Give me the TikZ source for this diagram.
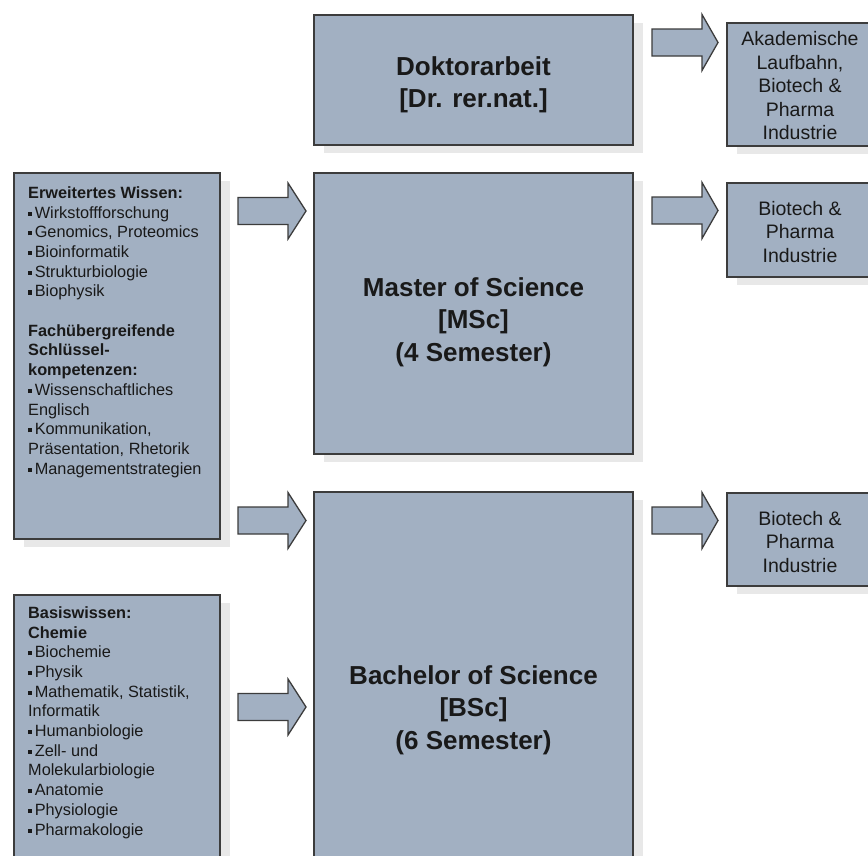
\documentclass[tikz,border=0pt]{standalone}
\usepackage{fontspec}
\setmainfont{Liberation Sans}
\usetikzlibrary{shadows}
\definecolor{boxfill}{RGB}{162,176,194}
\definecolor{boxline}{RGB}{60,60,60}
\definecolor{shadowc}{RGB}{232,232,232}
\definecolor{txt}{RGB}{25,25,25}
\newcommand{\sqb}{\rule[2.3pt]{4.2pt}{4.2pt}\hspace{2.4pt}}
\newcommand{\blockarrow}[4]{%
  \draw[blockarr] ({#1},{#4-13.5}) -- ({#2},{#4-13.5}) -- ({#2},{#4-28}) -- ({#3},{#4}) -- ({#2},{#4+28}) -- ({#2},{#4+13.5}) -- ({#1},{#4+13.5}) -- cycle;}
\begin{document}
\begin{tikzpicture}[x=1pt,y=-1pt,
  box/.style={draw=boxline, line width=1.4pt, fill=boxfill, inner sep=0pt,
    drop shadow={shadow xshift=10pt, shadow yshift=-8pt, fill=shadowc, opacity=1, draw=none}},
  blockarr/.style={draw=boxline, line width=1.3pt, fill=boxfill, line join=miter},
  bigtxt/.style={font=\fontsize{26}{32.5}\selectfont\bfseries, align=center, anchor=north, inner sep=0pt, text=txt},
  sidetxt/.style={font=\fontsize{19.5}{23.5}\selectfont, align=center, anchor=north, inner sep=0pt, text=txt},
  listtxt/.style={font=\fontsize{16.3}{19.7}\selectfont, align=left, anchor=north west, inner sep=0pt, text=txt}]
\clip (0,0) rectangle (868,855);
\fill[white] (0,0) rectangle (868,855);

% boxes
\node[box, minimum width=319pt, minimum height=130pt] (dok) at (473.5,80) {};
\node[box, minimum width=319pt, minimum height=281pt] (mst) at (473.5,313.5) {};
\node[box, minimum width=319pt, minimum height=388pt] (bsc) at (473.5,686) {};
\node[box, minimum width=206pt, minimum height=366pt] (ew) at (117,356) {};
\node[box, minimum width=206pt, minimum height=285pt] (bw) at (117,737.5) {};
\node[box, minimum width=148pt, minimum height=123pt] (ak) at (801,84.5) {};
\node[box, minimum width=148pt, minimum height=94pt] (bt1) at (801,230) {};
\node[box, minimum width=148pt, minimum height=93pt] (bt2) at (801,539.5) {};

% block arrows
\blockarrow{652}{702}{718}{42.5}
\blockarrow{238}{288}{306}{211}
\blockarrow{652}{702}{718}{210.5}
\blockarrow{238}{288}{306}{520.5}
\blockarrow{652}{702}{718}{520.5}
\blockarrow{238}{288}{306}{707}

% texts
\node[bigtxt] (tdok) at (473.5,56) {Doktorarbeit\\{[}Dr. rer.nat.{]}};
\node[bigtxt] (tmst) at (473.5,277) {Master of Science\\{[}MSc{]}\\(4 Semester)};
\node[bigtxt] (tbsc) at (473.5,665) {Bachelor of Science\\{[}BSc{]}\\(6 Semester)};

\node[sidetxt] (tak) at (800,31.3) {Akademische\\Laufbahn,\\Biotech \&\\Pharma\\Industrie};
\node[sidetxt] (tbt1) at (800,200.8) {Biotech \&\\Pharma\\Industrie};
\node[sidetxt] (tbt2) at (800,510.8) {Biotech \&\\Pharma\\Industrie};

\node[listtxt] (tew) at (28,186.3) {\textbf{Erweitertes Wissen:}\\
\sqb Wirkstoffforschung\\
\sqb Genomics, Proteomics\\
\sqb Bioinformatik\\
\sqb Strukturbiologie\\
\sqb Biophysik\\
\mbox{}\\
\textbf{Fachübergreifende}\\
\textbf{Schlüssel-}\\
\textbf{kompetenzen:}\\
\sqb Wissenschaftliches\\
Englisch\\
\sqb Kommunikation,\\
Präsentation, Rhetorik\\
\sqb Managementstrategien};

\node[listtxt] (tbw) at (28,606.3) {\textbf{Basiswissen:}\\
\textbf{Chemie}\\
\sqb Biochemie\\
\sqb Physik\\
\sqb Mathematik, Statistik,\\
Informatik\\
\sqb Humanbiologie\\
\sqb Zell- und\\
Molekularbiologie\\
\sqb Anatomie\\
\sqb Physiologie\\
\sqb Pharmakologie};
\end{tikzpicture}
\end{document}
